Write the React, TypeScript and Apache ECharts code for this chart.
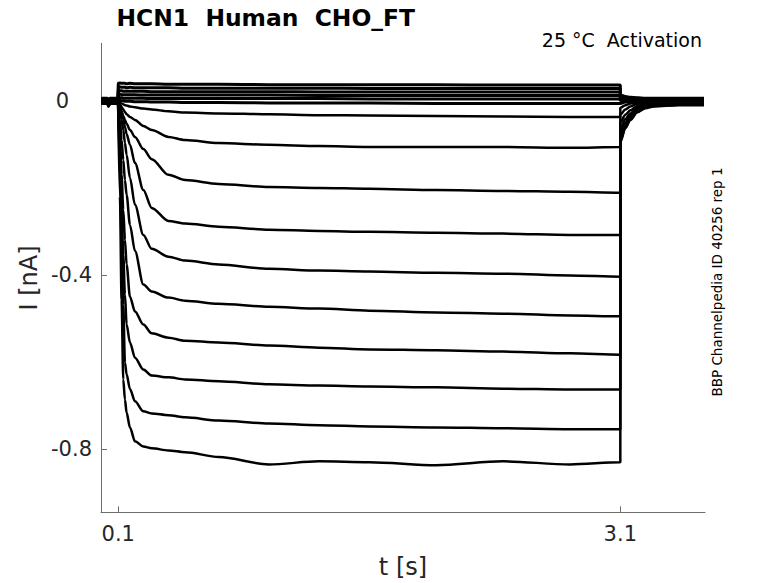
import React, { useEffect, useRef } from 'react';
import * as echarts from 'echarts';

// time grid [s]: holding, step (0.1–3.1 s), tail after return (duplicate 3.1 = jump)
const preTimes = [0, 0.035, 0.042, 0.05, 0.099];
const stepTimes = [0.1, 0.11, 0.12, 0.13, 0.14, 0.15, 0.17, 0.2, 0.25, 0.3, 0.4, 0.5, 0.7, 1.0, 1.3, 1.6, 2.0, 2.4, 2.8, 3.1];
const tailTimes = [3.1, 3.13, 3.16, 3.2, 3.25, 3.3, 3.45, 3.6];

// currents [nA], each: 5 holding values, 20 step values, 8 tail values
const traceP1 = [0.006, 0.006, -0.002, 0.006, 0.006,
  0.04, 0.041, 0.04, 0.04, 0.04, 0.039, 0.04, 0.039, 0.039, 0.039, 0.038, 0.038, 0.038, 0.037, 0.037, 0.037, 0.037, 0.036, 0.036, 0.036,
  0.013, 0.01, 0.008, 0.007, 0.006, 0.006, 0.006, 0.006];
const traceP2 = [0.005, 0.005, -0.003, 0.005, 0.005,
  0.031, 0.032, 0.031, 0.031, 0.031, 0.03, 0.031, 0.03, 0.03, 0.03, 0.03, 0.029, 0.029, 0.029, 0.029, 0.028, 0.028, 0.028, 0.028, 0.028,
  0.01, 0.008, 0.007, 0.006, 0.005, 0.005, 0.005, 0.005];
const traceP3 = [0.004, 0.004, -0.004, 0.004, 0.004,
  0.023, 0.023, 0.023, 0.022, 0.022, 0.022, 0.022, 0.022, 0.022, 0.021, 0.021, 0.021, 0.021, 0.021, 0.02, 0.02, 0.02, 0.02, 0.02, 0.02,
  0.007, 0.006, 0.005, 0.005, 0.004, 0.004, 0.004, 0.004];
const traceP4 = [0.003, 0.003, -0.005, 0.003, 0.003,
  0.015, 0.015, 0.014, 0.014, 0.014, 0.014, 0.014, 0.014, 0.013, 0.013, 0.013, 0.013, 0.013, 0.013, 0.012, 0.012, 0.012, 0.012, 0.012, 0.012,
  0.004, 0.004, 0.003, 0.003, 0.003, 0.003, 0.003, 0.003];
const traceP5 = [0.002, 0.002, -0.006, 0.002, 0.002,
  0.007, 0.007, 0.007, 0.006, 0.006, 0.006, 0.006, 0.006, 0.006, 0.005, 0.005, 0.005, 0.005, 0.005, 0.005, 0.004, 0.004, 0.004, 0.004, 0.004,
  0.0, 0.001, 0.001, 0.002, 0.002, 0.002, 0.002, 0.002];
const traceZ = [0.001, 0.001, -0.007, 0.001, 0.001,
  0.001, 0.001, 0.0, 0.0, -0.001, -0.001, -0.001, -0.002, -0.002, -0.003, -0.003, -0.004, -0.004, -0.005, -0.005, -0.005, -0.006, -0.006, -0.006, -0.006,
  -0.006, -0.003, -0.002, 0.0, 0.001, 0.001, 0.001, 0.001];
const traceA = [0, 0, -0.008, 0, 0,
  0, -0.003, -0.006, -0.008, -0.01, -0.011, -0.013, -0.015, -0.018, -0.02, -0.024, -0.027, -0.029, -0.031, -0.033, -0.034, -0.035, -0.036, -0.037, -0.037,
  -0.016, -0.01, -0.006, -0.003, -0.001, 0.0, 0.0, 0.0];
const traceB = [-0.001, -0.001, -0.009, -0.001, -0.001,
  -0.001, -0.008, -0.014, -0.02, -0.026, -0.031, -0.037, -0.044, -0.058, -0.067, -0.083, -0.09, -0.097, -0.101, -0.104, -0.106, -0.106, -0.106, -0.108, -0.106,
  -0.032, -0.02, -0.013, -0.007, -0.003, -0.002, -0.001, -0.001];
const traceC = [-0.002, -0.002, -0.01, -0.002, -0.002,
  -0.002, -0.012, -0.024, -0.035, -0.044, -0.053, -0.067, -0.083, -0.111, -0.134, -0.17, -0.182, -0.191, -0.198, -0.2, -0.202, -0.205, -0.207, -0.209, -0.211,
  -0.05, -0.032, -0.022, -0.012, -0.007, -0.004, -0.003, -0.003];
const traceD = [-0.003, -0.003, -0.01, -0.003, -0.003,
  -0.003, -0.014, -0.028, -0.042, -0.06, -0.076, -0.101, -0.143, -0.205, -0.246, -0.276, -0.282, -0.289, -0.296, -0.299, -0.301, -0.303, -0.305, -0.308, -0.308,
  -0.066, -0.042, -0.029, -0.016, -0.009, -0.006, -0.004, -0.004];
const traceE = [-0.004, -0.004, -0.011, -0.004, -0.004,
  -0.004, -0.021, -0.044, -0.067, -0.097, -0.124, -0.177, -0.239, -0.308, -0.34, -0.358, -0.367, -0.376, -0.386, -0.39, -0.392, -0.395, -0.397, -0.401, -0.404,
  -0.077, -0.05, -0.034, -0.019, -0.011, -0.007, -0.005, -0.005];
const traceF = [-0.005, -0.005, -0.011, -0.005, -0.005,
  -0.005, -0.044, -0.09, -0.136, -0.182, -0.216, -0.285, -0.345, -0.422, -0.438, -0.452, -0.459, -0.466, -0.473, -0.477, -0.482, -0.486, -0.489, -0.493, -0.495,
  -0.083, -0.054, -0.037, -0.021, -0.012, -0.008, -0.006, -0.006];
const traceG = [-0.006, -0.006, -0.012, -0.006, -0.006,
  -0.006, -0.079, -0.17, -0.25, -0.319, -0.376, -0.45, -0.484, -0.514, -0.534, -0.544, -0.551, -0.555, -0.562, -0.567, -0.571, -0.573, -0.576, -0.58, -0.583,
  -0.087, -0.057, -0.039, -0.023, -0.013, -0.009, -0.007, -0.007];
const traceH = [-0.006, -0.006, -0.012, -0.006, -0.006,
  -0.006, -0.113, -0.24, -0.354, -0.445, -0.514, -0.555, -0.59, -0.617, -0.631, -0.635, -0.64, -0.644, -0.651, -0.654, -0.656, -0.658, -0.661, -0.663, -0.663,
  -0.09, -0.059, -0.041, -0.024, -0.015, -0.01, -0.008, -0.008];
const traceI = [-0.007, -0.007, -0.013, -0.007, -0.007,
  -0.007, -0.15, -0.32, -0.47, -0.601, -0.628, -0.662, -0.69, -0.713, -0.718, -0.722, -0.727, -0.734, -0.741, -0.745, -0.748, -0.75, -0.752, -0.754, -0.754,
  -0.093, -0.061, -0.043, -0.026, -0.016, -0.012, -0.009, -0.009];
const traceJ = [-0.007, -0.007, -0.013, -0.007, -0.007,
  -0.007, -0.22, -0.457, -0.64, -0.686, -0.716, -0.75, -0.782, -0.794, -0.798, -0.803, -0.807, -0.818, -0.835, -0.828, -0.83, -0.837, -0.828, -0.835, -0.83,
  -0.095, -0.063, -0.044, -0.027, -0.017, -0.013, -0.01, -0.01];

const traces = [traceP1, traceP2, traceP3, traceP4, traceP5, traceZ, traceA, traceB, traceC, traceD, traceE, traceF, traceG, traceH, traceI, traceJ];

const xTicks = [0.1, 3.1];
const yTicks = [-0.8, -0.4, 0];

const titleText = 'HCN1\u00a0\u00a0Human\u00a0\u00a0CHO_FT';
const noteText = '25 °C\u00a0\u00a0Activation';
const sideText = 'BBP Channelpedia ID 40256 rep 1';
const xName = 't [s]';
const yName = 'I [nA]';

const FONT = '"DejaVu Sans", "Noto Sans", sans-serif';
const TXT = '#262626';
const AX = '#6e6e6e';

export default function App() {
  const ref = useRef<HTMLDivElement>(null);
  useEffect(() => {
    if (!ref.current) return;
    const chart = echarts.init(ref.current, null, { renderer: 'svg' });
    const allTimes = [...preTimes, ...stepTimes, ...tailTimes];
    const series = traces.map((tr, k) => ({
      type: 'line',
      data: tr.map((v, i) => [allTimes[i], v]),
      showSymbol: false,
      symbol: 'none',
      silent: true,
      smooth: 0.3,
      smoothMonotone: 'x',
      lineStyle: { color: '#000', width: k < 6 ? 3 : 2.5 },
    }));
    chart.setOption({
      animation: false,
      backgroundColor: '#fff',
      grid: { left: 101, right: 73, top: 43.3, bottom: 70.7, containLabel: false, outerBoundsMode: 'none' },
      xAxis: {
        type: 'value',
        min: -0.003,
        max: 3.606,
        axisLine: { show: true, onZero: false, lineStyle: { color: AX, width: 1 } },
        axisTick: { show: true, inside: true, length: 6, customValues: xTicks, lineStyle: { color: AX, width: 1 } },
        axisLabel: {
          customValues: xTicks,
          formatter: (v: number) => String(Math.round(v * 10) / 10),
          color: TXT, fontSize: 21, fontFamily: FONT, margin: 11,
        },
        splitLine: { show: false },
      },
      yAxis: {
        type: 'value',
        min: -0.945,
        max: 0.132,
        axisLine: { show: true, onZero: false, lineStyle: { color: AX, width: 1 } },
        axisTick: { show: true, inside: true, length: 6, customValues: yTicks, lineStyle: { color: AX, width: 1 } },
        axisLabel: {
          customValues: yTicks,
          formatter: (v: number) => {
            const r = Math.round(v * 10) / 10;
            return r === 0 ? '{z|0}' : '{n|' + String(r) + '}';
          },
          rich: {
            z: { fontSize: 21, fontFamily: FONT, color: TXT, padding: [0, 23, 0, 0] },
            n: { fontSize: 21, fontFamily: FONT, color: TXT },
          },
          color: TXT, fontSize: 21, fontFamily: FONT, margin: 9,
        },
        splitLine: { show: false },
      },
      series,
      graphic: [
        { type: 'text', x: 116.5, y: 18.3, style: { text: titleText, fill: '#000', fontSize: 23.4, fontWeight: 'bold', fontFamily: FONT, align: 'left', verticalAlign: 'middle' } },
        { type: 'text', x: 702, y: 40, style: { text: noteText, fill: '#000', fontSize: 19, fontFamily: FONT, align: 'right', verticalAlign: 'middle' } },
        { type: 'text', x: 403, y: 567, style: { text: xName, fill: TXT, fontSize: 24, fontFamily: FONT, align: 'center', verticalAlign: 'middle' } },
        { type: 'text', x: 29, y: 278, rotation: Math.PI / 2, style: { text: yName, fill: TXT, fontSize: 24, fontFamily: FONT, align: 'center', verticalAlign: 'middle' } },
        { type: 'text', x: 716.5, y: 282, rotation: Math.PI / 2, style: { text: sideText, fill: '#000', fontSize: 13.5, fontFamily: FONT, align: 'center', verticalAlign: 'middle' } },
      ],
    });
    return () => chart.dispose();
  }, []);
  return <div ref={ref} style={{ position: 'fixed', left: 0, top: 0, width: 778, height: 583 }} />;
}
